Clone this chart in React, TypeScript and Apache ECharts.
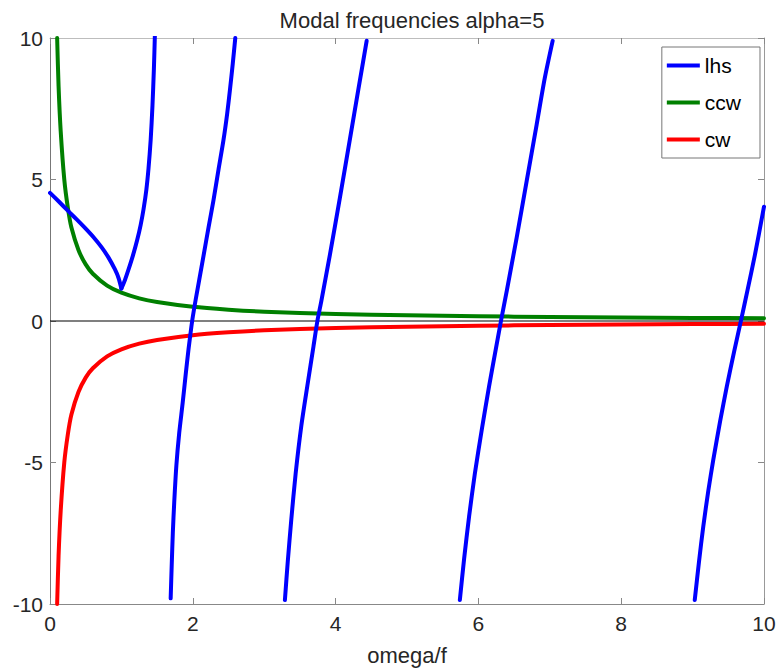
import React, { useEffect, useRef } from "react";
import * as echarts from "echarts";

// ---- data ----
const lhsX0 = [0, 0.12, 0.257, 0.37, 0.49, 0.61, 0.724, 0.82, 0.91, 0.96, 1.0];
const lhsY0 = [4.53, 4.23, 3.88, 3.6, 3.29, 2.96, 2.6, 2.24, 1.82, 1.52, 1.15];

const lhsX1 = [1.0, 1.05, 1.1, 1.16, 1.22, 1.27, 1.31, 1.35, 1.38, 1.41, 1.435, 1.455, 1.47];
const lhsY1 = [1.15, 1.45, 1.82, 2.3, 2.85, 3.4, 3.95, 4.65, 5.4, 6.4, 7.6, 8.9, 10.2];

const lhsX2 = [1.69, 1.705, 1.72, 1.74, 1.77, 1.81, 1.858, 1.9, 1.94, 1.975, 2.0, 2.04, 2.09, 2.15, 2.22, 2.29, 2.36, 2.43, 2.48, 2.52, 2.56, 2.595];
const lhsY2 = [-9.8, -8.6, -7.5, -6.4, -5.1, -3.95, -2.9, -1.9, -1.0, -0.3, 0.15, 0.75, 1.45, 2.3, 3.3, 4.27, 5.35, 6.4, 7.3, 8.16, 9.1, 10.0];

const lhsX3 = [3.29, 3.33, 3.38, 3.44, 3.52, 3.61, 3.69, 3.745, 3.8, 3.92, 4.06, 4.2, 4.32, 4.435];
const lhsY3 = [-9.86, -8.5, -7.0, -5.4, -3.7, -2.2, -0.9, 0, 0.7, 2.34, 4.35, 6.42, 8.2, 9.9];

const lhsX4 = [5.74, 5.8, 5.87, 5.95, 6.05, 6.15, 6.24, 6.316, 6.4, 6.536, 6.676, 6.816, 6.93, 7.04];
const lhsY4 = [-9.86, -8.4, -6.9, -5.4, -3.8, -2.3, -1.05, 0, 1.1, 2.95, 4.94, 6.94, 8.59, 9.9];

const lhsX5 = [9.03, 9.09, 9.15, 9.22, 9.29, 9.385, 9.48, 9.58, 9.685, 9.77, 9.87, 10.0];
const lhsY5 = [-9.86, -8.5, -7.25, -6.0, -4.9, -3.55, -2.3, -1.1, 0.1, 1.1, 2.3, 4.04];

const ccwX = [0.1, 0.12, 0.15, 0.2, 0.25, 0.3, 0.4, 0.5, 0.6, 0.8, 1, 1.25, 1.5, 2, 2.5, 3, 4, 5, 6, 7, 8, 9, 10];
const ccwY = [10, 8.3, 6.7, 5, 4, 3.3, 2.5, 2, 1.67, 1.25, 1, 0.8, 0.67, 0.5, 0.4, 0.33, 0.25, 0.2, 0.17, 0.14, 0.125, 0.11, 0.1];

const cwX = [0.1, 0.12, 0.15, 0.2, 0.25, 0.3, 0.4, 0.5, 0.6, 0.8, 1, 1.25, 1.5, 2, 2.5, 3, 4, 5, 6, 7, 8, 9, 10];
const cwY = [-10, -8.3, -6.7, -5, -4, -3.3, -2.5, -2, -1.67, -1.25, -1, -0.8, -0.67, -0.5, -0.4, -0.33, -0.25, -0.2, -0.17, -0.14, -0.125, -0.11, -0.1];

const zeroX = [0, 10];
const zeroY = [0, 0];

const xTicks = { min: 0, max: 10, interval: 2 };
const yTicks = { min: -10, max: 10, interval: 5 };

const titleText = "Modal frequencies alpha=5";
const xName = "omega/f";
const legendNames = ["lhs", "ccw", "cw"];

const zip = (xs: number[], ys: number[]) => xs.map((x, i) => [x, ys[i]]);

const FONT = "'Liberation Sans', Arial, Helvetica, sans-serif";
const LEG_ICON = "path://M0 0H33V4H0Z";

export default function App() {
  const ref = useRef<HTMLDivElement>(null);

  useEffect(() => {
    if (!ref.current) return;
    const chart = echarts.init(ref.current, undefined, { renderer: "svg" });

    const lineSeries = (name: string, data: number[][], color: string, z: number) => ({
      type: "line",
      name,
      data,
      xAxisIndex: 0,
      yAxisIndex: 0,
      showSymbol: false,
      symbol: "none",
      smooth: 0.25,
      clip: true,
      z,
      lineStyle: { color, width: 4, cap: "round", join: "round" },
      itemStyle: { color },
      emphasis: { disabled: true },
    });

    const lhsBranches = [
      zip(lhsX0, lhsY0),
      zip(lhsX1, lhsY1),
      zip(lhsX2, lhsY2),
      zip(lhsX3, lhsY3),
      zip(lhsX4, lhsY4),
      zip(lhsX5, lhsY5),
    ];

    const axisCommon = {
      type: "value",
      splitLine: { show: false },
      axisTick: { show: true, inside: true, length: 6, lineStyle: { color: "#888", width: 1 } },
    };

    chart.setOption({
      animation: false,
      backgroundColor: "#ffffff",
      title: {
        text: titleText,
        left: 407,
        textAlign: "center",
        top: 4,
        textStyle: { fontFamily: FONT, fontSize: 22, fontWeight: "normal", color: "#262626" },
      },
      grid: { left: 50, right: 13, top: 38, bottom: 65, containLabel: false, outerBoundsMode: "none" },
      legend: {
        data: legendNames.map((n) => ({ name: n, icon: LEG_ICON })),
        orient: "vertical",
        right: 17,
        top: 47,
        itemWidth: 33,
        itemHeight: 20,
        itemGap: 16,
        padding: [8, 19, 8, 5],
        borderColor: "#777",
        borderWidth: 1,
        borderRadius: 0,
        backgroundColor: "#ffffff",
        selectedMode: false,
        textStyle: { fontFamily: FONT, fontSize: 21, color: "#000", lineHeight: 20, padding: [0, 0, 0, 0] },
        itemStyle: { borderWidth: 0 },
      },
      xAxis: [
        {
          ...axisCommon,
          position: "bottom",
          min: xTicks.min,
          max: xTicks.max,
          interval: xTicks.interval,
          name: xName,
          nameLocation: "middle",
          nameGap: 40,
          nameTextStyle: { fontFamily: FONT, fontSize: 22, color: "#262626" },
          axisLine: { show: true, onZero: false, lineStyle: { color: "#888", width: 1 } },
          axisLabel: { show: true, margin: 9, fontFamily: FONT, fontSize: 21, color: "#262626" },
        },
        {
          ...axisCommon,
          position: "top",
          min: xTicks.min,
          max: xTicks.max,
          interval: xTicks.interval,
          axisLine: { show: true, onZero: false, lineStyle: { color: "#bdbdbd", width: 1 } },
          axisLabel: { show: false },
        },
      ],
      yAxis: [
        {
          ...axisCommon,
          position: "left",
          min: yTicks.min,
          max: yTicks.max,
          interval: yTicks.interval,
          axisLine: { show: true, onZero: false, lineStyle: { color: "#777", width: 1 } },
          axisLabel: { show: true, margin: 7, fontFamily: FONT, fontSize: 21, color: "#262626" },
        },
        {
          ...axisCommon,
          position: "right",
          min: yTicks.min,
          max: yTicks.max,
          interval: yTicks.interval,
          axisLine: { show: true, onZero: false, lineStyle: { color: "#999", width: 1 } },
          axisLabel: { show: false },
        },
      ],
      series: [
        {
          type: "line",
          name: "zero",
          data: zip(zeroX, zeroY),
          showSymbol: false,
          symbol: "none",
          silent: true,
          z: 1,
          lineStyle: { color: "#000000", width: 1.2 },
          itemStyle: { color: "#000000" },
        },
        lineSeries("cw", zip(cwX, cwY), "#ff0000", 2),
        lineSeries("ccw", zip(ccwX, ccwY), "#008000", 3),
        ...lhsBranches.map((d) => lineSeries("lhs", d, "#0000ff", 4)),
      ],
    });

    return () => chart.dispose();
  }, []);

  return (
    <div
      ref={ref}
      style={{ position: "fixed", left: 0, top: 0, width: 777, height: 669, background: "#fff" }}
    />
  );
}
